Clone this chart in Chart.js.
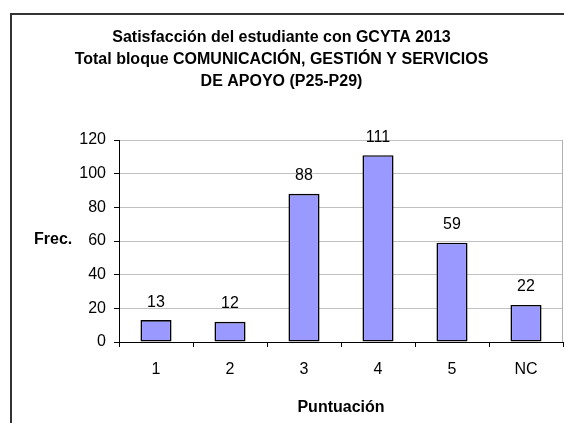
<!DOCTYPE html>
<html>
<head>
<meta charset="utf-8">
<script src="https://cdn.jsdelivr.net/npm/chart.js@4"></script>
<style>
  html, body { margin: 0; padding: 0; background: #fff; }
  #wrap { width: 564px; height: 423px; }
</style>
</head>
<body>
<div id="wrap"><canvas id="myChart" width="564" height="423"></canvas></div>
<script>
// data block
const categories = ['1', '2', '3', '4', '5', 'NC'];
const frecuencias = [13, 12, 88, 111, 59, 22];
const yTicks = [0, 20, 40, 60, 80, 100, 120];
const titleLines = [
  'Satisfacción del estudiante con GCYTA 2013',
  'Total bloque COMUNICACIÓN, GESTIÓN Y SERVICIOS',
  'DE APOYO (P25-P29)'
];

const font = 'Arial, "Liberation Sans", sans-serif';

// frame, axis titles, value labels, right border
const extras = {
  id: 'extras',
  afterDraw(chart) {
    const {ctx, chartArea: {left, top, right, bottom}} = chart;
    ctx.save();
    // grey right edge of plot
    ctx.strokeStyle = '#b0b0b0';
    ctx.lineWidth = 1;
    ctx.beginPath();
    ctx.moveTo(right - 0.5, top);
    ctx.lineTo(right - 0.5, bottom);
    ctx.stroke();

    // outer frame (cut at right and bottom)
    ctx.strokeStyle = '#333';
    ctx.lineWidth = 2;
    ctx.beginPath();
    ctx.moveTo(11, 423);
    ctx.lineTo(11, 14);
    ctx.lineTo(564, 14);
    ctx.stroke();

    ctx.fillStyle = '#000';
    // value labels
    ctx.font = '16px ' + font;
    ctx.textAlign = 'center';
    ctx.textBaseline = 'middle';
    const meta = chart.getDatasetMeta(0);
    meta.data.forEach((bar, i) => {
      ctx.fillText(frecuencias[i], bar.x, bar.y - 18);
    });

    // axis titles
    ctx.font = 'bold 16px ' + font;
    ctx.textAlign = 'left';
    ctx.fillText('Frec.', 34, 240);
    ctx.textAlign = 'center';
    ctx.fillText('Puntuación', (left + right) / 2, 408);
    ctx.restore();
  }
};

const data = {
  labels: categories,
  datasets: [{
    data: frecuencias,
    backgroundColor: '#9999FF',
    borderColor: '#000',
    borderWidth: 1.6,
    borderSkipped: false,
    categoryPercentage: 1,
    barPercentage: 0.42
  }]
};

const config = {
  type: 'bar',
  data,
  options: {
    responsive: false,
    animation: false,
    layout: { padding: { top: 0, right: 1, bottom: 0, left: 0 } },
    plugins: {
      legend: { display: false },
      tooltip: { enabled: false },
      title: {
        display: true,
        text: titleLines,
        color: '#000',
        font: { family: font, size: 16, weight: 'bold', lineHeight: 1.375 },
        padding: { top: 27, bottom: 47 }
      }
    },
    scales: {
      x: {
        afterFit(scale) { scale.height = 81; },
        grid: {
          offset: true,
          drawOnChartArea: false,
          color: '#000',
          tickLength: 5
        },
        border: { color: '#000', width: 1 },
        ticks: {
          color: '#000',
          font: { family: font, size: 16 },
          padding: 13
        }
      },
      y: {
        min: 0,
        max: 120,
        afterFit(scale) { scale.width = 119; },
        afterBuildTicks(scale) { scale.ticks = yTicks.map(v => ({value: v})); },
        grid: {
          color: '#c0c0c0',
          tickColor: '#000',
          tickLength: 5
        },
        border: { color: '#000', width: 1 },
        ticks: {
          color: '#000',
          font: { family: font, size: 16 },
          padding: 8
        }
      }
    }
  },
  plugins: [extras]
};

const myChart = new Chart(document.getElementById('myChart'), config);
</script>
</body>
</html>
